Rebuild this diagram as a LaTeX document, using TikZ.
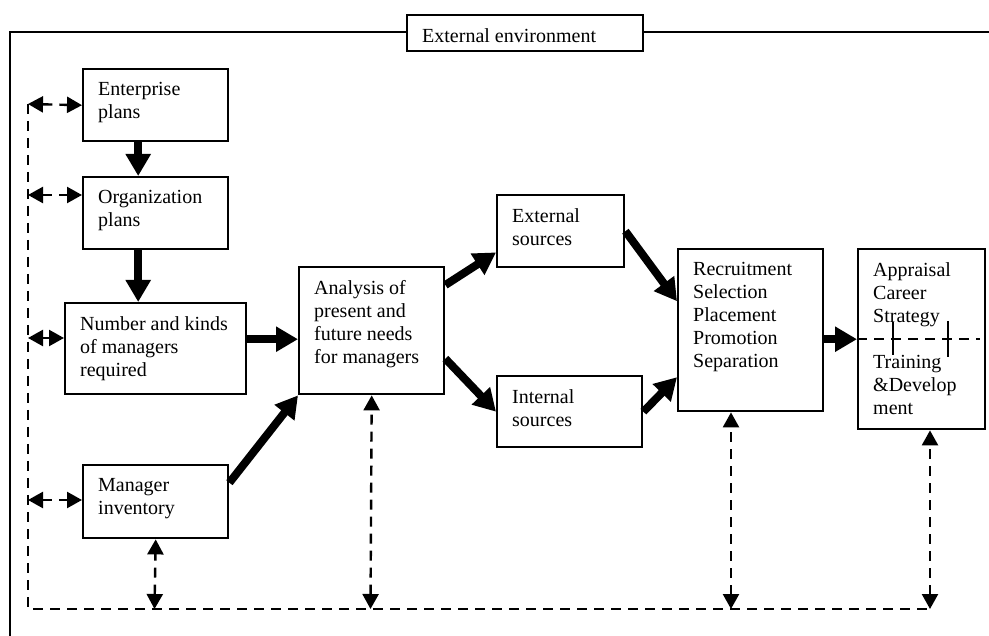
\documentclass[tikz,border=0pt]{standalone}
\usepackage{fontspec}
\setmainfont{Liberation Serif}
\usetikzlibrary{arrows.meta}
\newcommand{\boxfont}{\fontsize{20}{23}\selectfont}
\tikzset{
	box/.style={draw, line width=2.4pt, anchor=north west, inner sep=0pt, fill=white},
	txt/.style={label={[anchor=north west, align=left, inner sep=0pt, xshift=16pt, yshift=-14pt, font=\boxfont]north west:#1}},
	thickarrow/.style={line width=8pt, -{Triangle[length=22pt, width=24pt]}},
	dashline/.style={line width=2.4pt, dash pattern=on 10pt off 7pt},
	dasharrow/.style={dashline, {Triangle[length=15pt, width=16pt]}-{Triangle[length=15pt, width=16pt]}}
}
\begin{document}
	\begin{tikzpicture}[x=1pt, y=-1pt]
		\useasboundingbox ( 0, 0 ) rectangle ( 989, 636 );

		% внешняя рамка
		\draw [line width=2.4pt] ( 10, 636 ) -- ( 10, 32 ) -- ( 989, 32 );
		\node [box, minimum width=236pt, minimum height=36pt, txt={External environment}] (env) at ( 406, 14 ) {};

		% блоки
		\node [box, minimum width=145pt, minimum height=72pt, txt={Enterprise\\plans}] (ent) at ( 82, 68 ) {};
		\node [box, minimum width=145pt, minimum height=72pt, txt={Organization\\plans}] (org) at ( 82, 176 ) {};
		\node [box, minimum width=181pt, minimum height=91pt, txt={Number and kinds\\of managers\\required}] (num) at ( 64, 302 ) {};
		\node [box, minimum width=145pt, minimum height=73pt, txt={Manager\\inventory}] (inv) at ( 82, 464 ) {};
		\node [box, minimum width=145pt, minimum height=127pt, txt={Analysis of\\present and\\future needs\\for managers}] (ana) at ( 298, 266 ) {};
		\node [box, minimum width=127pt, minimum height=72pt, txt={External\\sources}] (exts) at ( 496, 194 ) {};
		\node [box, minimum width=145pt, minimum height=71pt, txt={Internal\\sources}] (ints) at ( 496, 375 ) {};
		\node [box, minimum width=145pt, minimum height=162pt, txt={Recruitment\\Selection\\Placement\\Promotion\\Separation}] (rec) at ( 677, 248 ) {};
		\node [box, minimum width=127pt, minimum height=180pt, txt={Appraisal\\Career\\Strategy\\[23pt]Training\\\&Develop\\ment}] (app) at ( 857, 248 ) {};

		% толстые стрелки
		\draw [thickarrow] ([xshift=-17.5pt]ent.south) -- ([xshift=-17.5pt]org.north);
		\draw [thickarrow] ([xshift=-17.5pt]org.south) -- ([xshift=-17.5pt]num.north);
		\draw [thickarrow] ([yshift=9.5pt]num.east) -- ([yshift=9.5pt]num.east -| ana.west);
		\draw [thickarrow] ([yshift=19pt]inv.east) -- (ana.south west);
		\draw [thickarrow] ([yshift=-19pt]ana.north east) -- ([yshift=16pt]exts.south west);
		\draw [thickarrow] ([yshift=-28pt]ana.east) -- (ints.west);
		\draw [thickarrow] (exts.east) -- ([yshift=29pt]rec.west);
		\draw [thickarrow] (ints.east) -- ([yshift=-47pt]rec.west);
		\draw [thickarrow] ([yshift=-9pt]rec.east) -- (app.west);

		% штрихи внутри блока Appraisal
		\draw [dashline] (app.west) -- ([xshift=-6pt]app.east);
		\draw [line width=2.4pt] ( 893, 322 ) -- ( 893, 355 );
		\draw [line width=2.4pt] ( 948, 321 ) -- ( 948, 357 );

		% обратная связь
		\coordinate (l1) at ( 28, 104 );
		\coordinate (l2) at ( 28, 195 );
		\coordinate (l3) at ( 28, 338 );
		\coordinate (l4) at ( 28, 500 );
		\coordinate (corner) at ( 28, 609 );
		\coordinate (b1) at ( 154.5, 609 );
		\coordinate (b2) at ( 370.5, 609 );
		\coordinate (b3) at ( 731, 609 );
		\coordinate (b4) at ( 930, 609 );
		\draw [dashline] (l1) -- (corner) -- (b4);

		\draw [dasharrow] (l1) -- (ent.west);
		\draw [dasharrow] (l2) -- (l2 -| org.west);
		\draw [dasharrow] (l3) -- (l3 -| num.west);
		\draw [dasharrow] (l4) -- (l4 -| inv.west);

		\draw [dasharrow] (b1) -- (inv.south);
		\draw [dasharrow] (b2) -- (ana.south);
		\draw [dasharrow] (b3) -- (b3 |- rec.south);
		\draw [dasharrow] (b4) -- (b4 |- app.south);
	\end{tikzpicture}
\end{document}
